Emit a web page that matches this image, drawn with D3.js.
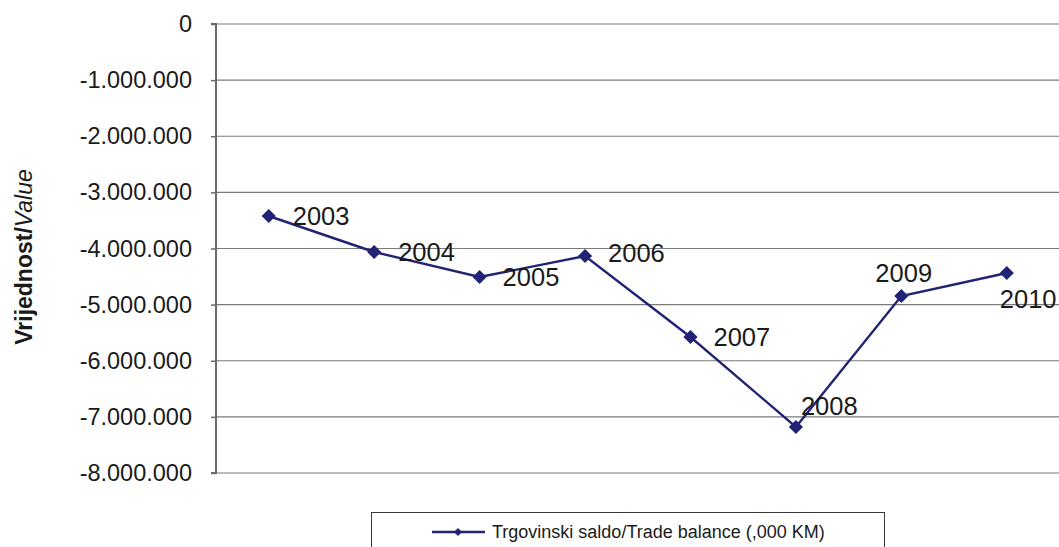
<!DOCTYPE html>
<html>
<head>
<meta charset="utf-8">
<script src="https://cdn.jsdelivr.net/npm/d3@7"></script>
<style>
  html, body { margin: 0; padding: 0; background: #fff; }
  svg { display: block; font-family: "Liberation Sans", Arial, sans-serif; }
</style>
</head>
<body>
<svg id="chart" width="1059" height="547"></svg>
<script>
// ---- data ----
const years = ["2003", "2004", "2005", "2006", "2007", "2008", "2009", "2010"];
const tradeBalance = [-3421000, -4062000, -4508000, -4134000, -5577000, -7180000, -4846000, -4437000];
const yTicks = [0, -1000000, -2000000, -3000000, -4000000, -5000000, -6000000, -7000000, -8000000];
const seriesName = "Trgovinski saldo/Trade balance (,000 KM)";

// ---- layout (label placement around each point) ----
const labelOffsets = [[24, 0], [24, 0], [23, 0], [23, -3], [23, 0], [5, -21], [-26, -23], [-7, 26]];

const svg = d3.select("#chart");
const plot = { left: 216, right: 1059.5, top: 24, bottom: 473 };
const lineColor = "#232375";
const textColor = "#1a1a1a";

const x = d3.scaleBand().domain(years).range([plot.left, plot.right]).padding(0);
const cx = d => x(d) + x.bandwidth() / 2;
const y = d3.scaleLinear().domain([-8000000, 0]).range([plot.bottom, plot.top]);

const loc = d3.formatLocale({ decimal: ",", thousands: ".", grouping: [3], currency: ["", ""], minus: "-" });
const fmt = loc.format(",d");

// gridlines
svg.append("g")
  .selectAll("line")
  .data(yTicks)
  .join("line")
  .attr("x1", plot.left).attr("x2", plot.right)
  .attr("y1", d => y(d)).attr("y2", d => y(d))
  .attr("stroke", "#7a7a7a").attr("stroke-width", 1.2);

// y axis
const yAxis = d3.axisLeft(y).tickValues(yTicks).tickFormat(d => fmt(d)).tickSize(5).tickPadding(19);
const ga = svg.append("g").attr("transform", `translate(${plot.left},0)`).call(yAxis);
ga.select(".domain").attr("stroke", "#6a6a6a").attr("stroke-width", 2).attr("d", `M-5,${plot.top}H0V${plot.bottom}H-5`);
ga.selectAll(".tick line").attr("stroke", "#6a6a6a").attr("stroke-width", 1.5);
ga.selectAll(".tick text").attr("font-size", 23.5).attr("fill", textColor)
  .attr("font-family", "'Liberation Sans', Arial, sans-serif");

// y axis title
const title = svg.append("text")
  .attr("transform", `translate(32,257) rotate(-90)`)
  .attr("text-anchor", "middle")
  .attr("font-size", 23)
  .attr("fill", textColor);
title.append("tspan").attr("font-weight", "bold").text("Vrijednost/");
title.append("tspan").attr("font-style", "italic").text("Value");

// line
const data = years.map((yr, i) => ({ yr, v: tradeBalance[i], i }));
svg.append("path")
  .datum(data)
  .attr("fill", "none")
  .attr("stroke", lineColor)
  .attr("stroke-width", 2.4)
  .attr("d", d3.line().x(d => cx(d.yr)).y(d => y(d.v)));

// markers
const diamond = d3.symbol().type(d3.symbolDiamond2).size(128);
svg.append("g").selectAll("path")
  .data(data)
  .join("path")
  .attr("d", diamond)
  .attr("transform", d => `translate(${cx(d.yr)},${y(d.v)})`)
  .attr("fill", lineColor);

// data labels
svg.append("g").selectAll("text")
  .data(data)
  .join("text")
  .attr("x", d => cx(d.yr) + labelOffsets[d.i][0])
  .attr("y", d => y(d.v) + labelOffsets[d.i][1])
  .attr("dy", "0.36em")
  .attr("font-size", 25.5)
  .attr("fill", textColor)
  .text(d => d.yr);

// legend
const lg = svg.append("g");
lg.append("rect").attr("x", 371.5).attr("y", 512.5).attr("width", 513).attr("height", 60)
  .attr("fill", "#fff").attr("stroke", "#3a3a3a").attr("stroke-width", 1);
lg.append("line").attr("x1", 432).attr("x2", 485).attr("y1", 532).attr("y2", 532)
  .attr("stroke", lineColor).attr("stroke-width", 2.4);
lg.append("path").attr("d", d3.symbol().type(d3.symbolDiamond2).size(40))
  .attr("transform", "translate(458,532)").attr("fill", lineColor);
lg.append("text").attr("x", 492).attr("y", 532).attr("dy", "0.35em")
  .attr("font-size", 18).attr("fill", textColor).text(seriesName);
</script>
</body>
</html>
